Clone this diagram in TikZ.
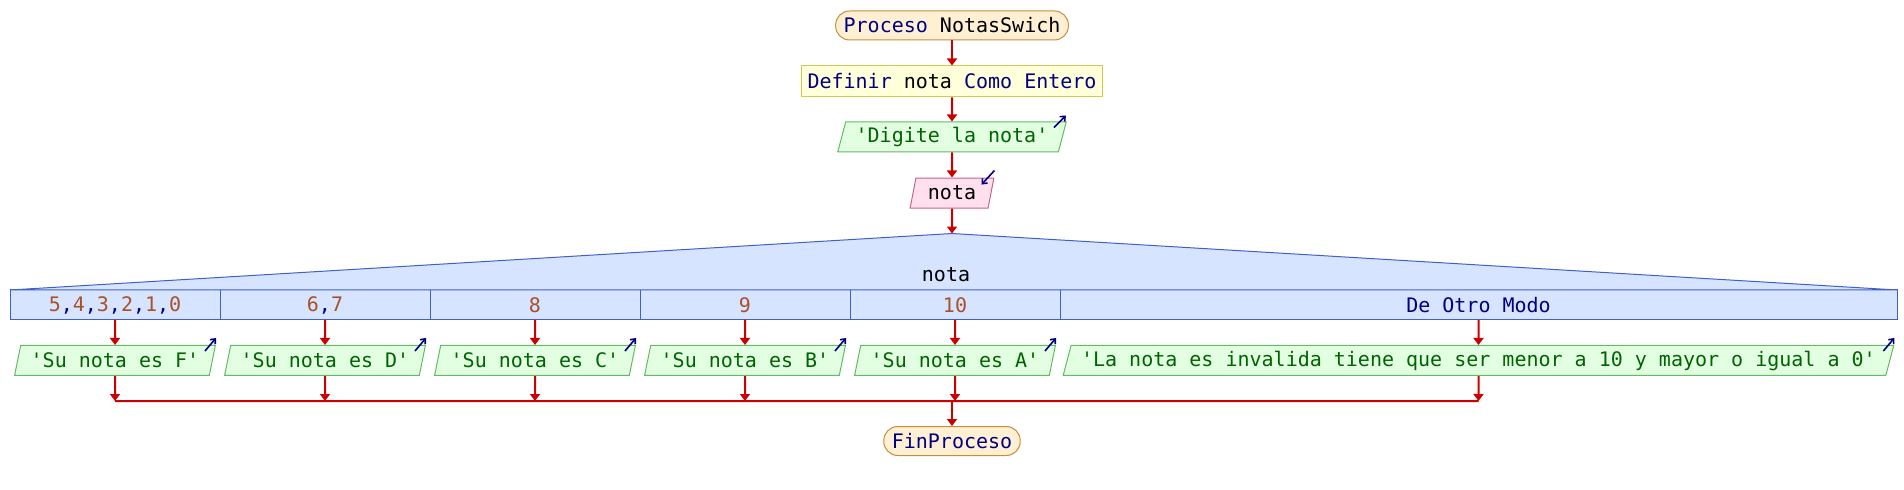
\documentclass[tikz,border=0pt]{standalone}
\usepackage{fontspec}
\setmonofont{DejaVu Sans Mono}
\usetikzlibrary{positioning, calc, shapes.geometric, arrows.meta}

\definecolor{kwblue}{RGB}{0,0,128}
\definecolor{procfill}{RGB}{255,240,212}
\definecolor{procline}{RGB}{200,140,60}
\definecolor{deffill}{RGB}{255,255,218}
\definecolor{defline}{RGB}{204,204,80}
\definecolor{outfill}{RGB}{226,255,226}
\definecolor{outline}{RGB}{100,185,100}
\definecolor{outtext}{RGB}{0,100,0}
\definecolor{infill}{RGB}{255,224,236}
\definecolor{inline}{RGB}{200,100,140}
\definecolor{swfill}{RGB}{214,228,255}
\definecolor{swline}{RGB}{64,96,200}
\definecolor{casetext}{RGB}{170,80,40}
\definecolor{flowred}{RGB}{204,0,0}

\newcommand{\kw}[1]{\textcolor{kwblue}{#1}}
\newcommand{\casecomma}{\kw{,}}

\tikzset{
  proc/.style={draw=procline, fill=procfill, line width=0.5pt, rounded corners=7pt, minimum height=14.5pt, inner xsep=4pt, inner ysep=0pt},
  defbox/.style={draw=defline, fill=deffill, line width=0.5pt, minimum height=15.5pt, inner xsep=3pt, inner ysep=0pt},
  io/.style={trapezium, trapezium left angle=68, trapezium right angle=112, trapezium stretches=true, line width=0.5pt, minimum height=15pt, inner xsep=5pt, inner ysep=0pt},
  outbox/.style={io, draw=outline, fill=outfill, text=outtext},
  inbox/.style={io, draw=inline, fill=infill, inner xsep=6pt},
  casebox/.style={draw=swline, fill=swfill, line width=0.5pt, minimum width=105pt, minimum height=15pt, inner sep=0pt, outer sep=0pt, text=casetext},
  flow/.style={flowred, line width=1pt, -{Triangle[width=5pt,length=3.5pt]}},
  icon/.style={kwblue, line width=0.8pt, -{Straight Barb[length=2pt,width=3.5pt]}},
}

\begin{document}
\begin{tikzpicture}[x=0.5pt, y=-0.5pt, font=\ttfamily, node distance=12.5pt]
    \useasboundingbox (0,0) rectangle (1904,490);

    \node[proc] (inicio) at (952,25.5) {\kw{Proceso} NotasSwich};
    \node[defbox, below=of inicio] (defnota) {\kw{Definir} nota \kw{Como Entero}};
    \node[outbox, below=12pt of defnota] (pedir) {'Digite la nota'};
    \node[inbox, below=of pedir] (leer) {nota};
    \coordinate[below=of leer] (tope);
    \draw[flow] (inicio) -- (defnota);
    \draw[flow] (defnota) -- (pedir);
    \draw[flow] (pedir) -- (leer);
    \draw[flow] (leer) -- (tope);
    \draw[icon] ($(pedir.top right corner)+(-13,6)$) -- ++(12,-12);
    \draw[icon] ($(leer.top right corner)+(0,-7)$) -- ++(-13,14);

    % segun
    \node[casebox, anchor=north west] (c1) at (10,290) {5\casecomma4\casecomma3\casecomma2\casecomma1\casecomma0};
    \node[casebox, right=0pt of c1] (c2) {6\casecomma7};
    \node[casebox, right=0pt of c2] (c3) {8};
    \node[casebox, right=0pt of c3] (c4) {9};
    \node[casebox, right=0pt of c4] (c5) {10};
    \node[casebox, right=0pt of c5, minimum width=418.5pt, text=kwblue] (c6) {De Otro Modo};
    \draw[swline, fill=swfill, line width=0.5pt] (c1.north west) -- (tope) -- (c6.north east) -- cycle;
    \node[anchor=base] (selnota) at ($(c5.north west)+(96,-8)$) {nota};

    \node[outbox, below=of c1] (o1) {'Su nota es F'};
    \node[outbox, below=of c2] (o2) {'Su nota es D'};
    \node[outbox, below=of c3] (o3) {'Su nota es C'};
    \node[outbox, below=of c4] (o4) {'Su nota es B'};
    \node[outbox, below=of c5] (o5) {'Su nota es A'};
    \node[outbox, below=of c6] (o6) {'La nota es invalida tiene que ser menor a 10 y mayor o igual a 0'};
    \draw[icon] ($(o1.top right corner)+(-11,6)$) -- ++(11,-13);
    \draw[icon] ($(o2.top right corner)+(-11,6)$) -- ++(11,-13);
    \draw[icon] ($(o3.top right corner)+(-11,6)$) -- ++(11,-13);
    \draw[icon] ($(o4.top right corner)+(-11,6)$) -- ++(11,-13);
    \draw[icon] ($(o5.top right corner)+(-11,6)$) -- ++(11,-13);
    \draw[icon] ($(o6.top right corner)+(-11,6)$) -- ++(11,-13);

    \draw[flow] (c1) -- (o1);
    \draw[flow] (c2) -- (o2);
    \draw[flow] (c3) -- (o3);
    \draw[flow] (c4) -- (o4);
    \draw[flow] (c5) -- (o5);
    \draw[flow] (c6) -- (o6);

    \coordinate[below=of o1] (j1);
    \coordinate[below=of o2] (j2);
    \coordinate[below=of o3] (j3);
    \coordinate[below=of o4] (j4);
    \coordinate[below=of o5] (j5);
    \coordinate[below=of o6] (j6);
    \draw[flow] (o1) -- (j1);
    \draw[flow] (o2) -- (j2);
    \draw[flow] (o3) -- (j3);
    \draw[flow] (o4) -- (j4);
    \draw[flow] (o5) -- (j5);
    \draw[flow] (o6) -- (j6);
    \draw[flowred, line width=1pt] (j1) -- (j6);

    \coordinate (junta) at (tope |- j1);
    \node[proc, below=of junta] (fin) {\kw{FinProceso}};
    \draw[flow] (junta) -- (fin);
\end{tikzpicture}
\end{document}
